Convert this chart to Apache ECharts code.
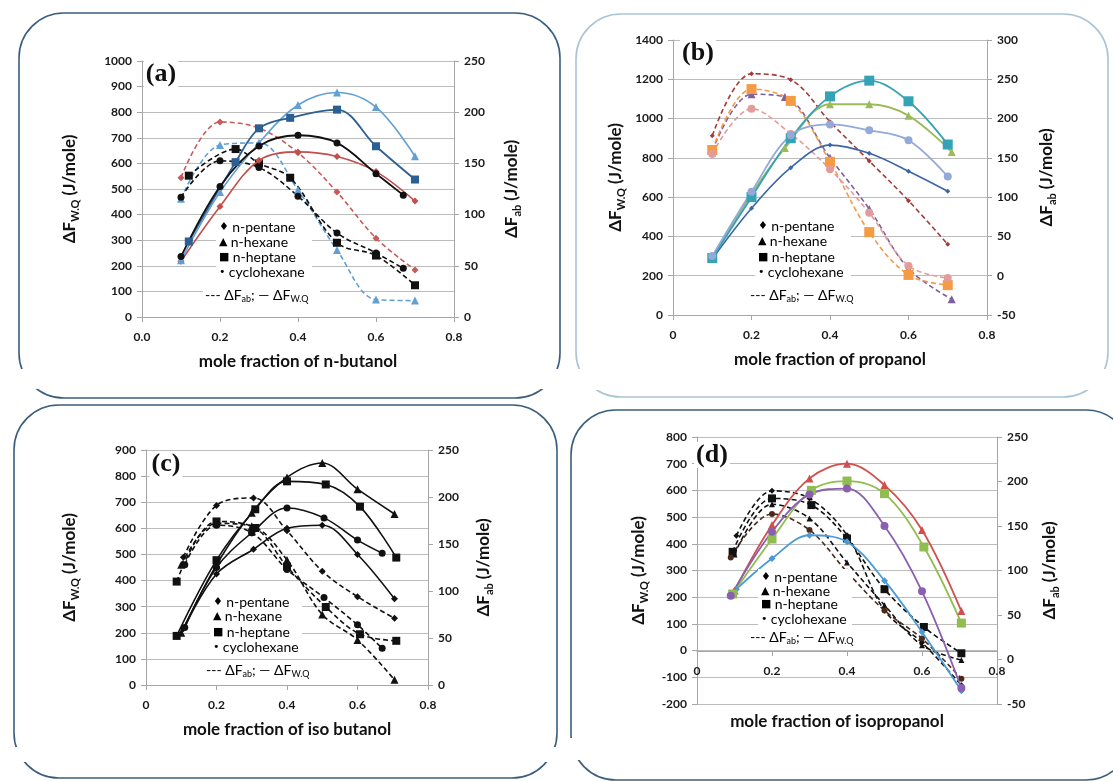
<!DOCTYPE html>
<html><head><meta charset="utf-8">
<script src="https://cdn.jsdelivr.net/npm/echarts@6/dist/echarts.min.js"></script>
<style>html,body{margin:0;padding:0;background:#fff}#c{width:1113px;height:781px}</style>
</head><body><div id="c"></div>
<script>
// ---------------- DATA ----------------
const xTicks = [0, 0.2, 0.4, 0.6, 0.8];
const solvents = ['n-pentane', 'n-hexane', 'n-heptane', 'cyclohexane'];
const xTitles = ['mole fraction of n-butanol', 'mole fraction of propanol', 'mole fraction of iso butanol', 'mole fraction of isopropanol'];
const panelLabels = ['(a)', '(b)', '(c)', '(d)'];

// (a) n-butanol : W.Q on left axis, ab on right axis
const aPentX = [0.1, 0.2, 0.3, 0.4, 0.5, 0.6, 0.7];
const aPentWQ = [218, 432, 612, 645, 627, 568, 453];
const aPentAB = [136, 190.5, 184.5, 160.5, 122, 77, 46];
const aHexX = [0.1, 0.2, 0.3, 0.4, 0.5, 0.6, 0.7];
const aHexWQ = [222, 488, 680, 828, 877, 820, 628];
const aHexAB = [115.5, 168, 170, 124, 65.5, 17, 16];
const aHepX = [0.12, 0.24, 0.3, 0.38, 0.5, 0.6, 0.7];
const aHepWQ = [295, 605, 737, 778, 810, 667, 537];
const aHepAB = [138, 164, 150, 136, 72.5, 60, 31];
const aCycX = [0.1, 0.2, 0.3, 0.4, 0.5, 0.6, 0.67];
const aCycWQ = [236, 510, 668, 710, 680, 560, 476];
const aCycAB = [117, 152.5, 146, 118, 82, 62.5, 47.5];

// (b) propanol
const bPentX = [0.1, 0.2, 0.3, 0.4, 0.5, 0.6, 0.7];
const bPentWQ = [285, 543, 750, 865, 823, 732, 630];
const bPentAB = [178, 257, 249.5, 196, 146, 95.5, 40];
const bHexX = [0.1, 0.2, 0.285, 0.4, 0.5, 0.6, 0.71];
const bHexWQ = [290, 615, 850, 1073, 1073, 1015, 830];
const bHexAB = [159, 231, 227.5, 150, 85, 9, -30];
const bHepX = [0.1, 0.2, 0.3, 0.4, 0.5, 0.6, 0.7];
const bHepWQ = [290, 600, 900, 1113, 1193, 1088, 868];
const bHepAB = [160, 237.5, 222.5, 145, 55.5, 1, -12];
const bCycX = [0.1, 0.2, 0.3, 0.4, 0.5, 0.6, 0.7];
const bCycWQ = [300, 628, 915, 970, 940, 890, 705];
const bCycAB = [155, 212.5, 180.5, 135.5, 80, 12.5, -3];

// (c) iso butanol
const cPentX = [0.106, 0.2, 0.305, 0.4, 0.5, 0.6, 0.705];
const cPentWQ = [215, 425, 520, 600, 612, 500, 330];
const cPentAB = [136, 191, 199, 164, 121, 94, 71];
const cHexX = [0.1, 0.2, 0.3, 0.4, 0.5, 0.6, 0.705];
const cHexWQ = [200, 460, 660, 795, 850, 750, 655];
const cHexAB = [128, 172, 169, 133, 75, 48, 5.5];
const cHepX = [0.087, 0.2, 0.31, 0.4, 0.51, 0.607, 0.71];
const cHepWQ = [188, 478, 673, 780, 768, 683, 488];
const cHepAB = [110, 174, 167, 126, 83, 54, 47];
const cCycX = [0.11, 0.2, 0.3, 0.4, 0.505, 0.6, 0.67];
const cCycWQ = [220, 450, 583, 678, 640, 555, 505];
const cCycAB = [128, 170, 162, 123, 93, 64, 39];

// (d) isopropanol
const dPentX = [0.105, 0.2, 0.3, 0.4, 0.5, 0.6, 0.705];
const dPentWQ = [230, 345, 432, 408, 262, 70, -150];
const dPentAB = [139, 189.5, 181, 139.5, 55, 19, -29];
const dHexX = [0.1, 0.2, 0.3, 0.4, 0.5, 0.6, 0.705];
const dHexWQ = [225, 470, 645, 700, 620, 452, 148];
const dHexAB = [118, 174.5, 158.5, 109, 61, 16, -0.5];
const dHepX = [0.095, 0.2, 0.305, 0.4, 0.5, 0.605, 0.705];
const dHepWQ = [212, 418, 600, 635, 588, 388, 103];
const dHepAB = [121, 181, 173.5, 136, 79, 36.5, 7];
const dCycX = [0.09, 0.2, 0.3, 0.4, 0.5, 0.6, 0.705];
const dCycWQ = [205, 445, 585, 607, 467, 222, -140];
const dCycAB = [114.5, 163.5, 145.5, 98.5, 55, 23.5, -21.5];

// ---------------- CHART ----------------
const FONT = 'Lato, "Open Sans", "DejaVu Sans", sans-serif';
const chart = echarts.init(document.getElementById('c'), null, {renderer: 'canvas'});

const grids = [
  {left: 142, top: 61, width: 312, height: 256},
  {left: 673, top: 40, width: 314, height: 275},
  {left: 146, top: 450, width: 282, height: 235},
  {left: 697, top: 437, width: 300, height: 267}
];

const nameRich = {
  n: {fontFamily: FONT, fontWeight: 'bold', fontSize: 17, lineHeight: 20, verticalAlign: 'middle', color: '#111'},
  s: {fontFamily: FONT, fontWeight: 'bold', fontSize: 11, lineHeight: 20, verticalAlign: 'middle', padding: [10, 0, 0, 0], color: '#111'}
};
const labelStyle = {fontFamily: FONT, fontWeight: 'bold', fontSize: 12, color: '#1a1a1a'};
const axisGray = '#a6a6a6';

function xAx(gi, fmtDec, name, offset) {
  return {
    type: 'value', gridIndex: gi, min: xTicks[0], max: xTicks[xTicks.length - 1], interval: 0.2,
    splitLine: {show: false}, offset: offset || 0,
    axisLine: {show: true, onZero: false, lineStyle: {color: axisGray}},
    axisTick: {show: true, length: 5, lineStyle: {color: axisGray}},
    axisLabel: Object.assign({margin: 14, formatter: v => (v === 0 && !fmtDec) ? '0' : v.toFixed(1)}, labelStyle),
    name: name, nameLocation: 'middle', nameGap: 36, nameMoveOverlap: false,
    nameTextStyle: {fontFamily: FONT, fontWeight: 'bold', fontSize: 17, color: '#111'}
  };
}
function yAx(gi, min, max, interval, pos, gap, sub) {
  return {
    type: 'value', gridIndex: gi, position: pos, min, max, interval,
    splitLine: {show: pos === 'left', lineStyle: {color: '#bcbcbc'}},
    axisLine: {show: true, onZero: false, lineStyle: {color: axisGray}},
    axisTick: {show: true, length: 5, lineStyle: {color: axisGray}},
    axisLabel: Object.assign({margin: 10, formatter: v => String(v)}, labelStyle),
    name: '{n|ΔF}{s|' + sub + '}{n| (J/mole)}', nameLocation: 'middle', nameRotate: 90, nameGap: gap,
    nameMoveOverlap: false,
    nameTextStyle: {rich: nameRich}
  };
}

const P = (xs, ys) => xs.map((x, i) => [x, ys[i]]);
function S(gi, yi, xs, ys, color, symbol, size, dashed, lw) {
  return {
    type: 'line', xAxisIndex: gi, yAxisIndex: yi, data: P(xs, ys), smooth: 0.35,
    symbol: symbol, symbolSize: size, showSymbol: true, animation: false, silent: true,
    lineStyle: {color: color, width: lw || 1.6, type: dashed ? [5, 3] : 'solid'},
    itemStyle: {color: color}, z: dashed ? 3 : 4
  };
}

const K = '#111';
const series = [
  // (a)
  S(0, 0, aPentX, aPentWQ, '#c0504d', 'diamond', 7, false),
  S(0, 1, aPentX, aPentAB, '#c65b58', 'diamond', 7, true),
  S(0, 0, aHexX, aHexWQ, '#62a0d3', 'triangle', 8, false),
  S(0, 1, aHexX, aHexAB, '#62a0d3', 'triangle', 8, true),
  S(0, 0, aHepX, aHepWQ, '#2c5f93', 'rect', 8, false, 1.8),
  S(0, 1, aHepX, aHepAB, K, 'rect', 8, true),
  S(0, 0, aCycX, aCycWQ, K, 'circle', 7, false, 1.8),
  S(0, 1, aCycX, aCycAB, K, 'circle', 7, true),
  // (b)
  S(1, 2, bPentX, bPentWQ, '#3b65a5', 'diamond', 5, false),
  S(1, 3, bPentX, bPentAB, '#a33b3b', 'diamond', 5, true),
  S(1, 2, bHexX, bHexWQ, '#9bbb59', 'triangle', 8, false, 1.8),
  S(1, 3, bHexX, bHexAB, '#7d60a0', 'triangle', 8, true),
  S(1, 2, bHepX, bHepWQ, '#35a3b6', 'rect', 10, false, 1.8),
  S(1, 3, bHepX, bHepAB, '#f59a45', 'rect', 10, true),
  S(1, 2, bCycX, bCycWQ, '#93a9d8', 'circle', 8, false, 1.8),
  S(1, 3, bCycX, bCycAB, '#e39c9c', 'circle', 8, true),
  // (c)
  S(2, 4, cPentX, cPentWQ, K, 'diamond', 7, false),
  S(2, 5, cPentX, cPentAB, K, 'diamond', 7, true),
  S(2, 4, cHexX, cHexWQ, K, 'triangle', 8, false),
  S(2, 5, cHexX, cHexAB, K, 'triangle', 8, true),
  S(2, 4, cHepX, cHepWQ, K, 'rect', 8, false),
  S(2, 5, cHepX, cHepAB, K, 'rect', 8, true),
  S(2, 4, cCycX, cCycWQ, K, 'circle', 7, false),
  S(2, 5, cCycX, cCycAB, K, 'circle', 7, true),
  // (d)
  S(3, 6, dPentX, dPentWQ, '#4b9ad6', 'diamond', 7, false, 1.8),
  S(3, 7, dPentX, dPentAB, K, 'diamond', 6, true),
  S(3, 6, dHexX, dHexWQ, '#d0504d', 'triangle', 8, false, 1.8),
  S(3, 7, dHexX, dHexAB, K, 'triangle', 6, true),
  S(3, 6, dHepX, dHepWQ, '#8fbd4f', 'rect', 9, false, 1.8),
  S(3, 7, dHepX, dHepAB, K, 'rect', 8, true),
  S(3, 6, dCycX, dCycWQ, '#8a5fb0', 'circle', 8, false, 1.8),
  S(3, 7, dCycX, dCycAB, '#4a2a1a', 'circle', 6, true)
];

// ---------- decorations (frames, legend boxes, panel labels) ----------
const legRich = {
  y: {fontFamily: '"DejaVu Sans", sans-serif', fontSize: 11, color: '#000', verticalAlign: 'middle', lineHeight: 16},
  t: {fontFamily: FONT, fontSize: 14, color: '#000', verticalAlign: 'middle', lineHeight: 16},
  s: {fontFamily: FONT, fontSize: 9, color: '#000', verticalAlign: 'middle', lineHeight: 16, padding: [8, 0, 0, 0]}
};
const symGlyph = ['♦', '▲', '■', '•'];
function legend(bx, by, bw, bh, tx, ys, lx, ly, lw, lastX, lastY) {
  const els = [
    {type: 'rect', shape: {x: bx, y: by, width: bw, height: bh}, style: {fill: '#fff'}, z: 100},
    {type: 'rect', shape: {x: lx, y: ly, width: lw, height: 17}, style: {fill: '#fff'}, z: 100}
  ];
  solvents.forEach((s, i) => {
    els.push({type: 'text', x: tx, y: ys[i], z: 101,
      style: {text: '{y|' + symGlyph[i] + '} {t|' + s + '}', rich: legRich, align: 'left', verticalAlign: 'middle'}});
  });
  els.push({type: 'text', x: lastX, y: lastY, z: 101,
    style: {text: '{t|--- ΔF}{s|ab}{t|; — ΔF}{s|W.Q}', rich: legRich, align: 'left', verticalAlign: 'middle'}});
  return els;
}
function frame(x, y, w, h, color) {
  return {type: 'rect', shape: {x, y, width: w, height: h, r: 45}, style: {fill: 'none', stroke: color, lineWidth: 1.6}, z: 1};
}
function band(x, y, w, h) {
  return {type: 'rect', shape: {x, y, width: w, height: h}, style: {fill: '#fff'}, z: 2};
}
function plabel(x, y, t) {
  return {type: 'text', x, y, z: 102, style: {text: t, font: 'bold 26px "Liberation Serif", "DejaVu Serif", serif',
    fill: '#111', align: 'center', verticalAlign: 'middle', backgroundColor: '#fff', padding: [0, 2]}};
}

const graphic = [].concat(
  [frame(19, 13, 541, 385, '#3c5e7e'), frame(576, 14, 532, 383, '#a9c4d6'),
   frame(14, 405, 543, 373, '#3c5e7e'), frame(571, 410, 560, 370, '#3c5e7e'),
   band(5, 369, 565, 20), band(566, 369, 547, 21), band(5, 747, 565, 15), band(566, 738, 547, 22)],
  legend(216, 218, 96, 62, 219, [227, 242, 257, 272], 203, 287, 117, 205, 295),
  legend(755, 217, 96, 62, 758, [226, 241, 257, 272], 748, 287, 108, 750, 295),
  legend(210, 594, 92, 61, 213, [602, 616, 632, 647], 203, 662, 107, 206, 670),
  legend(758, 569, 94, 57, 761, [577, 591, 604, 619], 747, 629, 109, 750, 637),
  [plabel(161, 74, panelLabels[0]), plabel(698, 53, panelLabels[1]), plabel(166, 464, panelLabels[2]), plabel(712, 455, panelLabels[3]),
   {type: 'text', x: 837, y: 722, z: 50, style: {text: xTitles[3], font: 'bold 17px ' + FONT, fill: '#111', align: 'center', verticalAlign: 'middle'}}]
);

const option = {
  animation: false,
  backgroundColor: '#fff',
  grid: grids,
  xAxis: [xAx(0, true, xTitles[0]), xAx(1, false, xTitles[1]), xAx(2, false, xTitles[2]), xAx(3, false, '', -53)],
  yAxis: [
    yAx(0, 0, 1000, 100, 'left', 62, 'W.Q'), yAx(0, 0, 250, 50, 'right', 48, 'ab'),
    yAx(1, 0, 1400, 200, 'left', 47, 'W.Q'), yAx(1, -50, 300, 50, 'right', 50, 'ab'),
    yAx(2, 0, 900, 100, 'left', 66, 'W.Q'), yAx(2, 0, 250, 50, 'right', 46, 'ab'),
    yAx(3, -200, 800, 100, 'left', 48, 'W.Q'), yAx(3, -50, 250, 50, 'right', 43, 'ab')
  ],
  graphic: graphic,
  series: series
};
chart.setOption(option);
</script>
</body></html>
